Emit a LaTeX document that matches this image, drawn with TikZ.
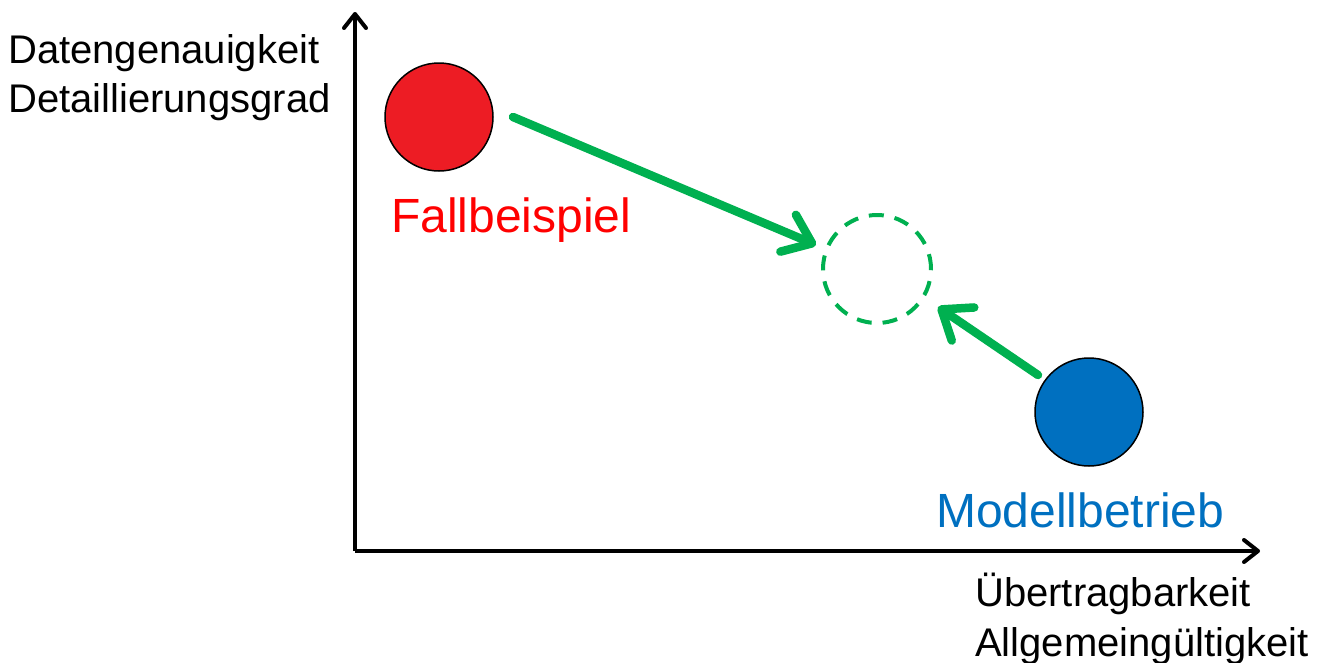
\documentclass[tikz,border=0pt]{standalone}
\usepackage{fontspec}
\setmainfont{Liberation Sans}
\usetikzlibrary{arrows.meta}
\definecolor{cred}{HTML}{ED1C24}
\definecolor{cblue}{HTML}{0070C0}
\definecolor{cgreen}{HTML}{00B050}
\definecolor{tred}{HTML}{FF0000}
\begin{document}
\begin{tikzpicture}[x=1pt,y=-1pt,
  axis/.style={line width=4pt,-{Straight Barb[length=14pt,width=22pt,round]}},
  dot/.style={circle,draw=black,line width=1.5pt,minimum size=108pt,inner sep=0pt},
  goal/.style={circle,draw=cgreen,line width=4pt,dash pattern=on 15pt off 11pt,minimum size=108pt,inner sep=0pt},
  move/.style={draw=cgreen,line width=8.5pt,line cap=round,-{Straight Barb[length=26pt,width=40pt,round]}},
  axlabel/.style={anchor=base west,inner sep=0pt,font=\fontsize{40}{48}\selectfont},
  ptlabel/.style={anchor=base west,inner sep=0pt,font=\fontsize{48}{56}\selectfont}]
\useasboundingbox (0,0) rectangle (1326,662);
\coordinate (o) at (355,551);
\coordinate (ytop) at (355,12);
\coordinate (xend) at (1260,551);
\draw[axis] (o) -- (ytop);
\draw[axis] (o) -- (xend);
\node[dot,fill=cred] (fb) at (439,117) {};
\node[dot,fill=cblue] (mb) at (1089,412) {};
\node[goal] (ziel) at (877,269) {};
\coordinate (s1) at (513,117);
\coordinate (t1) at (816,245);
\coordinate (s2) at (1038,375);
\coordinate (t2) at (938,307);
\draw[move] (s1) -- (t1);
\draw[move] (s2) -- (t2);
\node[axlabel] (yl1) at (8,63) {Datengenauigkeit};
\node[axlabel] (yl2) at (8,112) {Detaillierungsgrad};
\node[axlabel] (xl1) at (975,606) {Übertragbarkeit};
\node[axlabel] (xl2) at (975,656) {Allgemeingültigkeit};
\node[ptlabel,text=tred] (fbl) at (391,232) {Fallbeispiel};
\node[ptlabel,text=cblue] (mbl) at (936,527) {Modellbetrieb};
\end{tikzpicture}
\end{document}
